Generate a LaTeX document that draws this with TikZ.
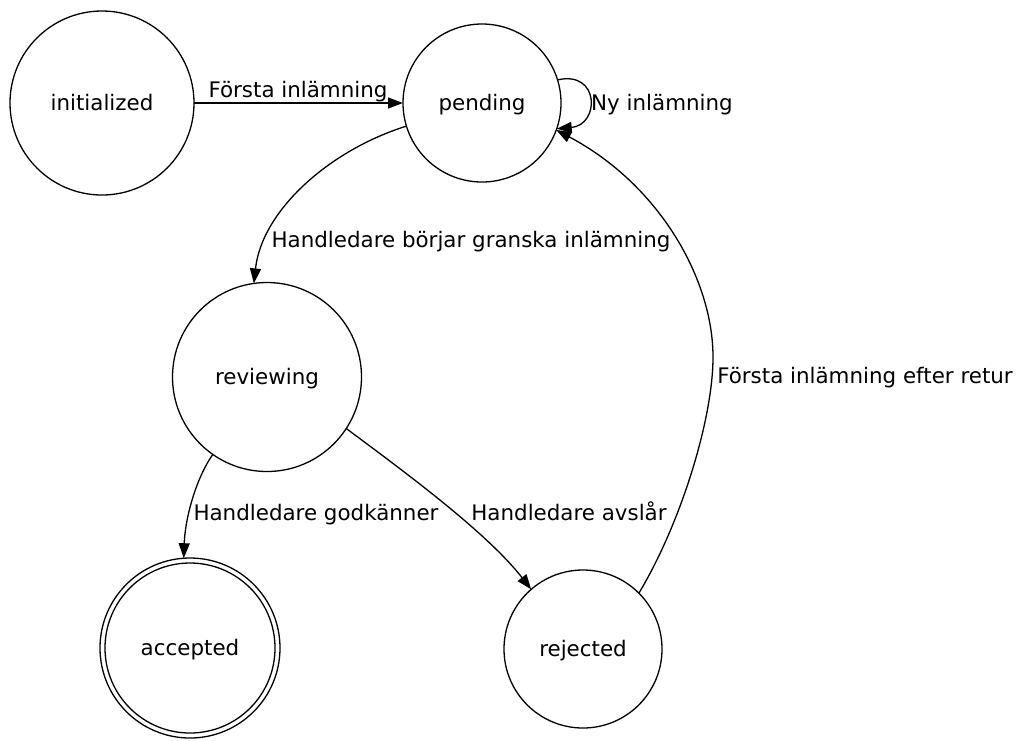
\documentclass[tikz,border=0pt]{standalone}
\usepackage{fontspec}
\setmainfont{DejaVu Sans}
\usetikzlibrary{arrows.meta}
\begin{document}
\begin{tikzpicture}[x=1pt,y=-1pt,
  line width=1.3pt,
  every node/.style={font=\fontsize{21.4}{25}\selectfont, text height=15pt, text depth=1pt, inner sep=0pt},
  state/.style={draw, circle, minimum size=#1, outer sep=0pt},
  ring/.style={draw, circle, minimum size=#1, outer sep=0pt},
  trans/.style={-{Triangle[length=15pt,width=11pt]}}
]
\useasboundingbox (0,0) rectangle (1019,740);

% states
\node[state=184] (init) at (102,103) {initialized};
\node[state=158] (pend) at (482,103) {pending};
\node[state=189] (rev)  at (267,377) {reviewing};
\node[state=170] (acc)  at (190,648) {accepted};
\node[ring=180]  (accring) at (190,648) {};
\node[state=158] (rej)  at (583,649) {rejected};

% transitions
\draw[trans] (init.east) -- (pend.west);
\node (l1) at (298,90) {Första inlämning};

\draw[trans] (pend.17) .. controls (600,70) and (600,125) .. (pend.-19);
\node (l2) at (662,103) {Ny inlämning};

\draw[trans] (pend.197) .. controls (330,150) and (262,210) .. (rev.98);
\node (l3) at (471,240) {Handledare börjar granska inlämning};

\draw[trans] (rev.235) .. controls (195,480) and (185,520) .. (accring.94);
\node (l4) at (316,513) {Handledare godkänner};

\draw[trans] (rev.-33) .. controls (395,465) and (485,530) .. (rej.131);
\node (l5) at (569,513) {Handledare avslår};

\coordinate (bend) at (713,357);
\draw[trans] (rej.45) .. controls (680,525) and (713,420) .. (bend)
  .. controls (713,280) and (660,185) .. (pend.-20);
\node (l6) at (865,376) {Första inlämning efter retur};
\end{tikzpicture}
\end{document}
